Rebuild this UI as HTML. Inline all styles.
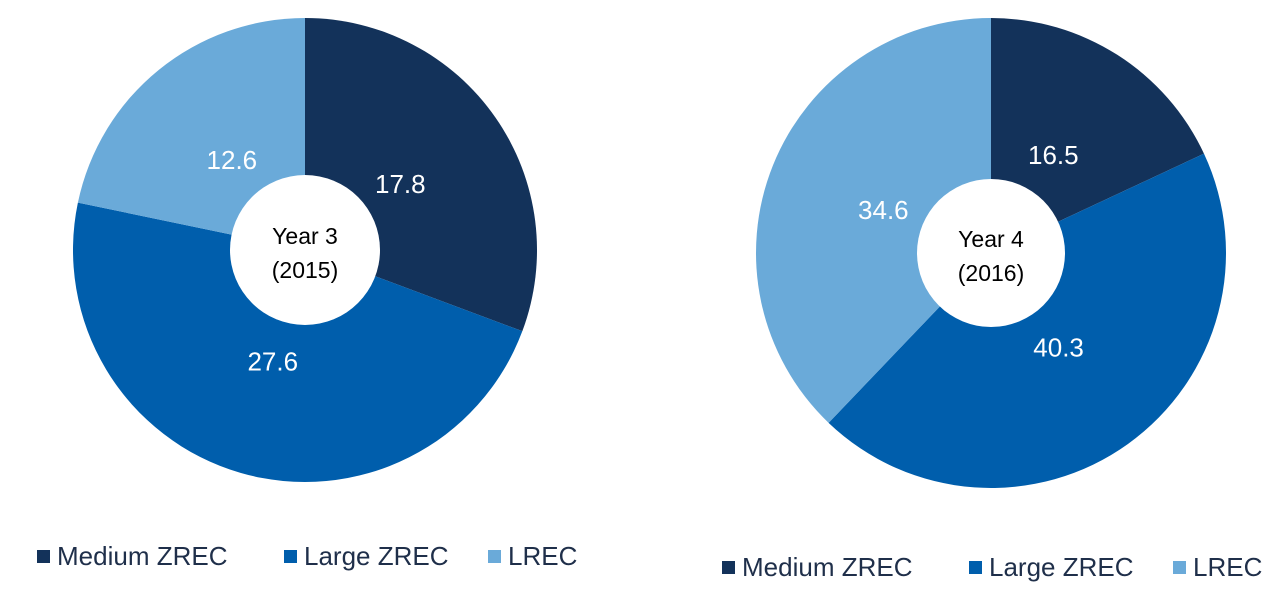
<!DOCTYPE html>
<html><head><meta charset="utf-8"><style>
body{margin:0;background:#fff;width:1281px;height:592px;overflow:hidden;font-family:"Liberation Sans",sans-serif}
</style></head><body>
<svg width="1281" height="592" id="svg"></svg>
<script>
const categories = ["Medium ZREC","Large ZREC","LREC"];
const values2015 = [17.8, 27.6, 12.6];
const values2016 = [16.5, 40.3, 34.6];
const labels2015 = ["17.8","27.6","12.6"];
const labels2016 = ["16.5","40.3","34.6"];
const colors = ["#13325a","#005eac","#6aaad9"];
const NS="http://www.w3.org/2000/svg";
const svg=document.getElementById('svg');
function mk(t,a,p){const e=document.createElementNS(NS,t);for(const k in a)e.setAttribute(k,a[k]);(p||svg).appendChild(e);return e;}
function donut(cx,cy,R,r,vals,labs,title,sub,name,legY,legX){
  const g=mk('g',{});
  
  
  const tot=vals.reduce((a,b)=>a+b,0);let a0=0;
  vals.forEach((v,i)=>{
    const a1=a0+v/tot*2*Math.PI;
    const x0=cx+R*Math.sin(a0),y0=cy-R*Math.cos(a0),x1=cx+R*Math.sin(a1),y1=cy-R*Math.cos(a1);
    const p=mk('path',{d:`M${cx},${cy} L${x0},${y0} A${R},${R} 0 ${a1-a0>Math.PI?1:0} 1 ${x1},${y1} Z`,fill:colors[i]},g);
    
    
    const m=(a0+a1)/2,lr=116;
    const t=mk('text',{x:cx+lr*Math.sin(m),y:cy-lr*Math.cos(m)+9,'text-anchor':'middle','font-size':26,fill:'#fff'},g);
    t.textContent=labs[i];
    
    
    a0=a1;
  });
  const c=mk('circle',{cx:cx,cy:cy,r:r,fill:'#fff'},g);
  
  
  const t1=mk('text',{x:cx,y:cy-6,'text-anchor':'middle','font-size':23,fill:'#000'},g);t1.textContent=title;
  
  
  const t2=mk('text',{x:cx,y:cy+28,'text-anchor':'middle','font-size':23,fill:'#000'},g);t2.textContent=sub;
  
  
  const lg=mk('g',{},g);
  
  
  let x=legX;const widths=[210,167,0];
  categories.forEach((cat,i)=>{
    const s=mk('rect',{x:x,y:legY-15,width:13,height:13,fill:colors[i]},lg);
    
    
    const t=mk('text',{x:x+20,y:legY,'font-size':26,fill:'#1f2f4a'},lg);t.textContent=cat;
    
    
    x+=widths[i]+37;
  });
}
donut(305,250,232,75,values2015,labels2015,"Year 3","(2015)","donut-2015",565,37);
donut(991,253,235,74,values2016,labels2016,"Year 4","(2016)","donut-2016",576,722);
</script>
</body></html>
